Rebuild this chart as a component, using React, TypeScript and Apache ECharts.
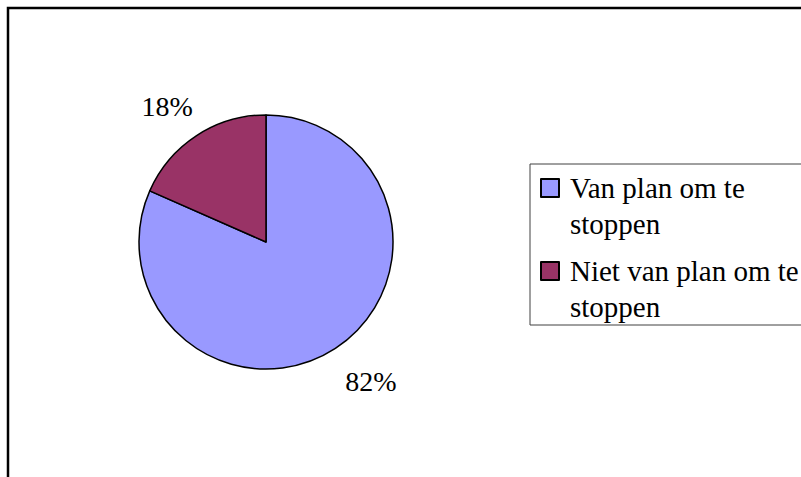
import React, { useEffect, useRef } from "react";
import * as echarts from "echarts";

const categories = ["Van plan om te stoppen", "Niet van plan om te stoppen"];
const shares = [81.6, 18.4];
const sliceColors = ["#9999FF", "#993366"];

const FONT = "'Liberation Serif', 'Times New Roman', serif";

function wrapName(name: string): string {
  const i = name.lastIndexOf(" ");
  return i > 0 ? name.slice(0, i) + "\n" + name.slice(i + 1) : name;
}

export default function App() {
  const ref = useRef<HTMLDivElement>(null);

  useEffect(() => {
    document.body.style.margin = "0";
    const chart = echarts.init(ref.current!, null, { renderer: "svg" });
    chart.setOption({
      animation: false,
      backgroundColor: "#ffffff",
      color: sliceColors,
      graphic: [
        {
          type: "rect",
          silent: true,
          z: 0,
          shape: { x: 8, y: 8, width: 1000, height: 800 },
          style: { fill: "none", stroke: "#000000", lineWidth: 2.5 },
        },
      ],
      legend: {
        orient: "vertical",
        left: 530,
        top: 164,
        padding: [6, 60, 0, 10],
        itemWidth: 18,
        itemHeight: 54,
        itemGap: 11,
        icon: "path://M0,0L1,0L1,1L0,1Z M0,3L0,3",
        itemStyle: { borderColor: "#000000", borderWidth: 2 },
        borderColor: "#404040",
        borderWidth: 1,
        selectedMode: false,
        data: categories,
        formatter: (name: string) => wrapName(name),
        textStyle: {
          fontFamily: FONT,
          fontSize: 29,
          lineHeight: 36,
          color: "#000000",
          padding: [0, 0, 0, 6],
        },
      },
      series: [
        {
          type: "pie",
          center: [266, 242],
          radius: 127,
          startAngle: 90,
          clockwise: true,
          avoidLabelOverlap: false,
          emphasis: { disabled: true },
          data: categories.map((name, i) => ({ name, value: shares[i] })),
          itemStyle: { borderColor: "#000000", borderWidth: 1.5 },
          label: {
            show: true,
            position: "outside",
            distanceToLabelLine: 0,
            fontFamily: FONT,
            fontSize: 28,
            color: "#000000",
            formatter: (p: any) => Math.round(p.percent) + "%",
          },
          labelLine: { show: false, length: 18, length2: 0 },
          labelLayout: (params: any) => {
            const h = params.labelRect.height;
            const left = params.align === "right";
            return { dx: left ? 6 : 0, dy: left ? -h / 2 : h / 2 + 4 };
          },
        },
      ],
    });
    return () => chart.dispose();
  }, []);

  return <div ref={ref} style={{ width: 801, height: 477 }} />;
}
